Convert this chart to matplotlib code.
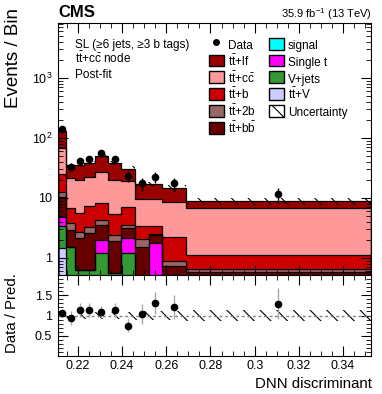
import numpy as np
import matplotlib
matplotlib.use('Agg')
import matplotlib.pyplot as plt
from matplotlib.patches import Patch, Rectangle
from matplotlib.lines import Line2D
from matplotlib.legend_handler import HandlerPatch, HandlerLine2D
from matplotlib.ticker import MultipleLocator, LogLocator, NullFormatter

plt.rcParams['font.family'] = ['Liberation Sans', 'DejaVu Sans']
plt.rcParams['mathtext.fontset'] = 'custom'
plt.rcParams['mathtext.rm'] = 'Liberation Sans'
plt.rcParams['mathtext.it'] = 'Liberation Sans:italic'
plt.rcParams['mathtext.bf'] = 'Liberation Sans:bold'
plt.rcParams['hatch.linewidth'] = 0.8

####### values #######
edges = [0.2108, 0.2146, 0.2188, 0.2229, 0.2275, 0.2334, 0.2397, 0.2458, 0.2521, 0.2580, 0.2689, 0.3525]

ttv     = [1.45, 0.10, 0.05, 0.05, 0.05, 0.05, 0.05, 0.03, 0.02, 0.02, 0.01]
vjets   = [1.95, 1.44, 0.57, 0.58, 1.15, 0.52, 1.15, 0.32, 0.08, 0.03, 0.01]
singlet = [1.50, 0.00, 0.00, 0.00, 0.80, 0.00, 0.98, 0.00, 1.66, 0.05, 0.03]
signal  = [0.00, 0.00, 0.00, 0.00, 0.00, 0.00, 0.00, 0.00, 0.00, 0.00, 0.00]
ttbb    = [5.40, 1.39, 1.51, 1.97, 1.55, 1.37, 1.02, 1.19, 0.64, 0.62, 0.53]
tt2b    = [2.40, 0.86, 0.61, 0.70, 0.75, 0.46, 0.40, 0.51, 0.08, 0.18, 0.08]
ttb     = [12.3, 2.91, 2.96, 4.10, 3.85, 2.95, 3.40, 1.40, 0.87, 1.36, 0.47]
ttcc    = [43.0, 14.6, 14.3, 14.6, 19.25, 14.65, 12.2, 6.15, 6.25, 6.44, 5.57]
ttlf    = [64.0, 13.7, 16.0, 16.6, 23.6, 18.6, 11.8, 7.4, 7.4, 5.8, 2.2]

data = [139, 32.8, 40.7, 44.0, 55.3, 44.0, 23.3, 17.5, 22.3, 17.5, 11.5]
unc  = [0.06, 0.08, 0.08, 0.08, 0.08, 0.09, 0.09, 0.10, 0.10, 0.12, 0.14]

procs = [ttv, vjets, singlet, signal, ttbb, tt2b, ttb, ttcc, ttlf]
cols = ['#ccccff', '#339933', '#ff00ff', '#00ffff', '#660000', '#996666', '#cc0000', '#ff9999', '#990000']
labs = ['$\\mathrm{t\\bar{t}}$+V', 'V+jets', 'Single t', 'signal',
        '$\\mathrm{t\\bar{t}}$+$\\mathrm{b\\bar{b}}$', '$\\mathrm{t\\bar{t}}$+2b',
        '$\\mathrm{t\\bar{t}}$+b', '$\\mathrm{t\\bar{t}}$+$\\mathrm{c\\bar{c}}$',
        '$\\mathrm{t\\bar{t}}$+lf']

edges = np.array(edges)
data = np.array(data)
unc = np.array(unc)
centers = 0.5 * (edges[1:] + edges[:-1])

fig = plt.figure(figsize=(3.82, 3.94), dpi=100)
ax = fig.add_axes([0.151, 0.302, 0.819, 0.640])
ax2 = fig.add_axes([0.151, 0.0964, 0.819, 0.2056])

#######stack#######
base = np.full(len(data), 1e-3)
tops = []
for vals, c in zip(procs, cols):
    top = base + np.array(vals)
    ax.stairs(top, edges, baseline=base, fill=True, color=c, lw=0)
    tops.append(top)
    base = top
for i, top in enumerate(tops):
    if i == 3:
        continue
    ax.stairs(top, edges, color='black', lw=0.9)
total = base

ax.stairs(total * (1 + unc), edges, baseline=total * (1 - unc), fill=True,
          facecolor='none', edgecolor='black', hatch='\\\\', lw=0)
ax.errorbar(centers, data, yerr=np.sqrt(data), fmt='o', color='black', ms=4.5,
            elinewidth=1, capsize=0, zorder=5)

ax.set_yscale('log')
ax.set_xlim(edges[0], edges[-1])
ax.set_ylim(0.52, 8300)
ax.set_yticks([1, 10, 100, 1000])
ax.set_yticklabels(['1', '10', '$10^{2}$', '$10^{3}$'])
ax.yaxis.set_minor_locator(LogLocator(base=10, subs=np.arange(2, 10)))
ax.yaxis.set_minor_formatter(NullFormatter())
ax.xaxis.set_major_locator(MultipleLocator(0.02))
ax.xaxis.set_minor_locator(MultipleLocator(0.005))
ax.tick_params(which='both', direction='in', top=True, right=True, labelsize=9, pad=4)
ax.tick_params(which='major', length=7)
ax.tick_params(which='minor', length=3.5)
ax.tick_params(labelbottom=False)

#######ratio#######
ax2.stairs(1 + unc, edges, baseline=1 - unc, fill=True,
           facecolor='none', edgecolor='black', hatch='\\\\', lw=0)
ax2.axhline(1, color='gray', ls=(0, (2, 2)), lw=1)
ax2.errorbar(centers, data / total, yerr=np.sqrt(data) / total, fmt='o', color='black',
             ecolor='#aaaaaa', ms=4.5, elinewidth=1, capsize=0, zorder=5)
ax2.set_xlim(edges[0], edges[-1])
ax2.set_ylim(0, 2)
ax2.set_yticks([0.5, 1, 1.5])
ax2.set_yticklabels(['0.5', '1', '1.5'])
ax2.yaxis.set_minor_locator(MultipleLocator(0.1))
ax2.xaxis.set_minor_locator(MultipleLocator(0.005))
ax2.set_xticks([0.22, 0.24, 0.26, 0.28, 0.30, 0.32, 0.34])
ax2.set_xticklabels(['0.22', '0.24', '0.26', '0.28', '0.3', '0.32', '0.34'])
ax2.tick_params(which='both', direction='in', top=True, right=True, labelsize=9, pad=4)
ax2.tick_params(which='major', length=7)
ax2.tick_params(which='minor', length=3.5)
ax2.tick_params(axis='x', pad=3)

#######legend#######
# fixed row height so both columns line up
ROW_H, ROW_D = 12.0, 2.2

def small_box(legend, orig_handle, xdescent, ydescent, width, height, fontsize):
    h = 1.0 * fontsize
    return Rectangle((-xdescent, -ydescent + (height - h) / 2), width, h)

class BoxHandler(HandlerPatch):
    def legend_artist(self, legend, orig_handle, fontsize, handlebox):
        handlebox.height = ROW_H
        handlebox.ydescent = ROW_D
        return super().legend_artist(legend, orig_handle, fontsize, handlebox)

class DotHandler(HandlerLine2D):
    def legend_artist(self, legend, orig_handle, fontsize, handlebox):
        handlebox.height = ROW_H
        handlebox.ydescent = ROW_D
        return super().legend_artist(legend, orig_handle, fontsize, handlebox)

handles = [Line2D([], [], marker='o', color='black', ls='none', ms=4)]
names = ['Data']
for k in [8, 7, 6, 5, 4, 3, 2, 1, 0]:
    handles.append(Patch(facecolor=cols[k], edgecolor='black', lw=1))
    names.append(labs[k])
handles.append(Patch(facecolor='white', edgecolor='black', hatch='\\\\', lw=1))
names.append('Uncertainty')
ax.legend(handles, names, ncol=2, frameon=False, fontsize=8.5, loc='upper left',
          bbox_to_anchor=(0.483, 0.950), borderaxespad=0, borderpad=0,
          handlelength=1.27, handletextpad=0.35,
          labelspacing=0.01, columnspacing=1.08,
          handler_map={Patch: BoxHandler(patch_func=small_box), Line2D: DotHandler()})

#######texts#######
ax.text(0.055, 0.900, 'SL (\u22656 jets, \u22653 b tags)', transform=ax.transAxes, fontsize=8.5, va='baseline')
ax.text(0.055, 0.842, '$\\mathrm{t\\bar{t}}$+$\\mathrm{c\\bar{c}}$ node', transform=ax.transAxes, fontsize=8.5, va='baseline')
ax.text(0.055, 0.782, 'Post-fit', transform=ax.transAxes, fontsize=8.5, va='baseline')

fig.text(58 / 382, 1 - 17 / 394, 'CMS', fontsize=12, fontweight='bold', va='baseline')
fig.text(372 / 382, 1 - 18 / 394, '35.9 fb$^{-1}$ (13 TeV)', fontsize=8, ha='right', va='baseline')
fig.text(14 / 382, 1 - 8 / 394, 'Events / Bin', rotation=90, fontsize=13.5, ha='center', va='top')
fig.text(12 / 382, 1 - 313 / 394, 'Data / Pred.', rotation=90, fontsize=10.8, ha='center', va='center')
fig.text(372 / 382, 1 - 388 / 394, 'DNN discriminant', fontsize=10.8, ha='right', va='baseline')

fig.savefig('out.png', dpi=100)
